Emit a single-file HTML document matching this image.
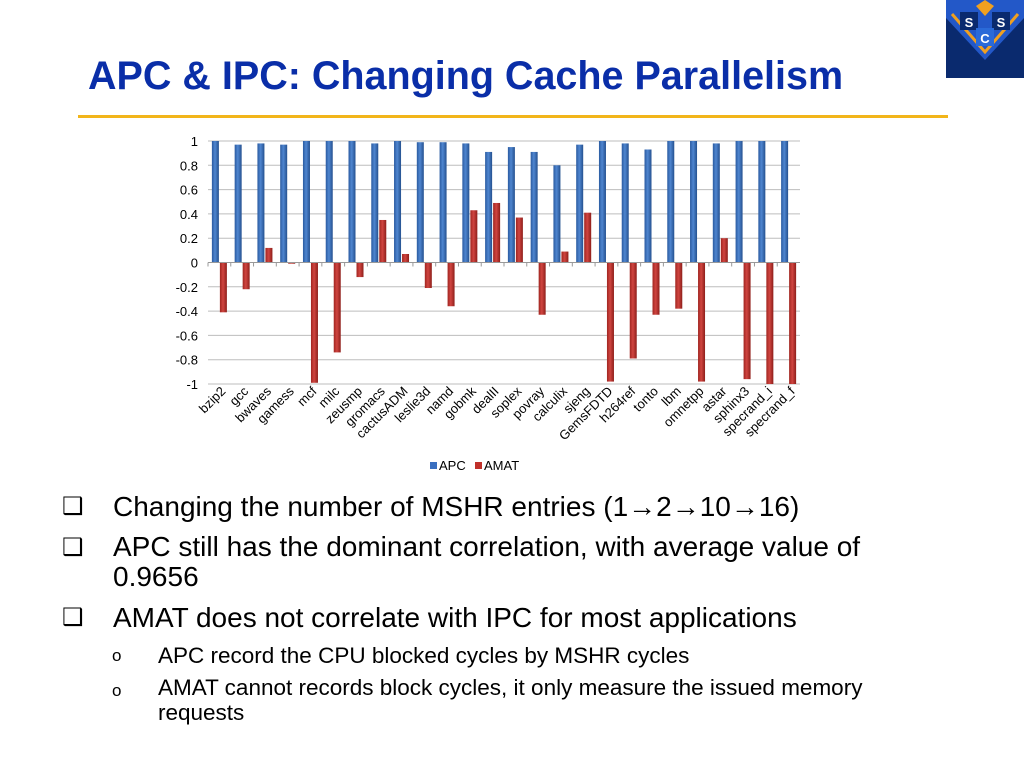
<!DOCTYPE html>
<html><head><meta charset="utf-8"><style>
body{margin:0;width:1024px;height:768px;background:#fff;font-family:"Liberation Sans",Arial,sans-serif;position:relative;overflow:hidden}
.t{position:absolute;white-space:nowrap}
</style></head><body>
<div class="t" style="left:88px;top:54px;font-size:39.5px;font-weight:bold;color:#0a2ea8">APC &amp; IPC: Changing Cache Parallelism</div>
<div style="position:absolute;left:78px;top:115px;width:870px;height:3px;background:#f2b51a"></div>
<svg style="position:absolute;left:946px;top:0" width="78" height="78" viewBox="0 0 78 78">
<rect width="78" height="78" fill="#2358c8"/>
<path d="M0,18 L39,60 L78,18 L78,78 L0,78Z" fill="#0a2a6e"/>
<path d="M6,14 L39,52 L72,14" fill="none" stroke="#f0a020" stroke-width="3"/>
<path d="M30,6 L39,0 L48,6 L39,16Z" fill="#f0a020"/>
<rect x="14" y="12" width="18" height="18" fill="#0a2a6e"/><text x="23" y="27" font-size="13" font-weight="bold" fill="#fff" text-anchor="middle">S</text>
<rect x="46" y="12" width="18" height="18" fill="#0a2a6e"/><text x="55" y="27" font-size="13" font-weight="bold" fill="#fff" text-anchor="middle">S</text>
<rect x="30" y="28" width="18" height="18" fill="#2a6ad8"/><text x="39" y="43" font-size="13" font-weight="bold" fill="#fff" text-anchor="middle">C</text>
</svg>
<svg id="chart" style="position:absolute;left:0;top:0" width="1024" height="480"></svg>
<div class="t" style="left:62px;top:491px;font-size:28px;color:#000"><span style="position:absolute;left:0;top:1px;font-size:24px">❑</span><span style="position:absolute;left:51px">Changing the number of MSHR entries (1→2→10→16)</span></div>
<div class="t" style="left:62px;top:532px;font-size:28px;color:#000;line-height:30px"><span style="position:absolute;left:0;top:1px;font-size:24px">❑</span><span style="position:absolute;left:51px">APC still has the dominant correlation, with average value of<br>0.9656</span></div>
<div class="t" style="left:62px;top:602px;font-size:28px;color:#000"><span style="position:absolute;left:0;top:1px;font-size:24px">❑</span><span style="position:absolute;left:51px">AMAT does not correlate with IPC for most applications</span></div>
<div class="t" style="left:112px;top:643px;font-size:22.5px;color:#000"><span style="position:absolute;left:0;top:3px;font-size:17px">o</span><span style="position:absolute;left:46px">APC record the CPU blocked cycles by MSHR cycles</span></div>
<div class="t" style="left:112px;top:675px;font-size:22.5px;color:#000;line-height:25px"><span style="position:absolute;left:0;top:3px;font-size:17px">o</span><span style="position:absolute;left:46px">AMAT cannot records block cycles, it only measure the issued memory<br>requests</span></div>
<script>
const categories=["bzip2","gcc","bwaves","gamess","mcf","milc","zeusmp","gromacs","cactusADM","leslie3d","namd","gobmk","dealII","soplex","povray","calculix","sjeng","GemsFDTD","h264ref","tonto","lbm","omnetpp","astar","sphinx3","specrand_i","specrand_f"];
const apcValues=[1,0.97,0.98,0.97,1,1,1,0.98,1,0.99,0.99,0.98,0.91,0.95,0.91,0.80,0.97,1,0.98,0.93,1,1,0.98,1,1,1];
const amatValues=[-0.41,-0.22,0.12,-0.01,-0.99,-0.74,-0.12,0.35,0.07,-0.21,-0.36,0.43,0.49,0.37,-0.43,0.09,0.41,-0.98,-0.79,-0.43,-0.38,-0.98,0.20,-0.96,-1,-1];
const yTicks=[1,0.8,0.6,0.4,0.2,0,-0.2,-0.4,-0.6,-0.8,-1];
const NS="http://www.w3.org/2000/svg";
const svg=document.getElementById('chart');
const x0=208,x1=800,yTop=141,yBot=384;
const y=v=>yTop+(1-v)/2*(yBot-yTop);
const bw=(x1-x0)/categories.length;
const xc=i=>x0+bw*(i+0.5);
function mk(tag,attrs){const e=document.createElementNS(NS,tag);for(const k in attrs)e.setAttribute(k,attrs[k]);svg.appendChild(e);return e;}
const defs=mk('defs',{});
defs.innerHTML='<linearGradient id="gb" x1="0" x2="1"><stop offset="0" stop-color="#2a5aa0"/><stop offset="0.45" stop-color="#4f86d0"/><stop offset="1" stop-color="#24508f"/></linearGradient><linearGradient id="gr" x1="0" x2="1"><stop offset="0" stop-color="#a02520"/><stop offset="0.45" stop-color="#d04540"/><stop offset="1" stop-color="#8e1e1a"/></linearGradient>';
yTicks.forEach(t=>{
  const g=mk('line',{x1:x0,x2:x1,y1:y(t),y2:y(t),stroke:'#bdbdbd','stroke-width':1});
  
  
  const l=mk('text',{x:198,y:y(t)+5,'font-size':13,'text-anchor':'end',fill:'#000'});
  l.textContent=String(t);
  
  
});
categories.forEach((c,i)=>{
  const a=apcValues[i],m=amatValues[i];
  const b=mk('rect',{x:xc(i)-7.5,y:Math.min(y(a),y(0)),width:7,height:Math.abs(y(a)-y(0)),fill:'url(#gb)'});
  
  
  const r=mk('rect',{x:xc(i)+0.5,y:Math.min(y(m),y(0)),width:7,height:Math.abs(y(m)-y(0)),fill:'url(#gr)'});
  
  
  const tk=mk('line',{x1:x0+bw*i,x2:x0+bw*i,y1:y(0),y2:y(0)+4,stroke:'#999'});
  
  
  const tx=xc(i)+7,ty=392;
  const lab=mk('text',{x:tx,y:ty,'font-size':13,'text-anchor':'end',fill:'#000',transform:`rotate(-45 ${tx} ${ty})`});
  lab.textContent=c;
  
  
});
mk('line',{x1:x0,x2:x1,y1:y(0),y2:y(0),stroke:'#999'});
const lg=[["APC","#3a6fc0",430],["AMAT","#c0302a",475]];
lg.forEach(([n,c,lx])=>{
  const s=mk('rect',{x:lx,y:462,width:7,height:7,fill:c});
  
  
  const t=mk('text',{x:lx+9,y:470,'font-size':13,fill:'#000'});
  t.textContent=n;
  
  
});
</script>
</body></html>
